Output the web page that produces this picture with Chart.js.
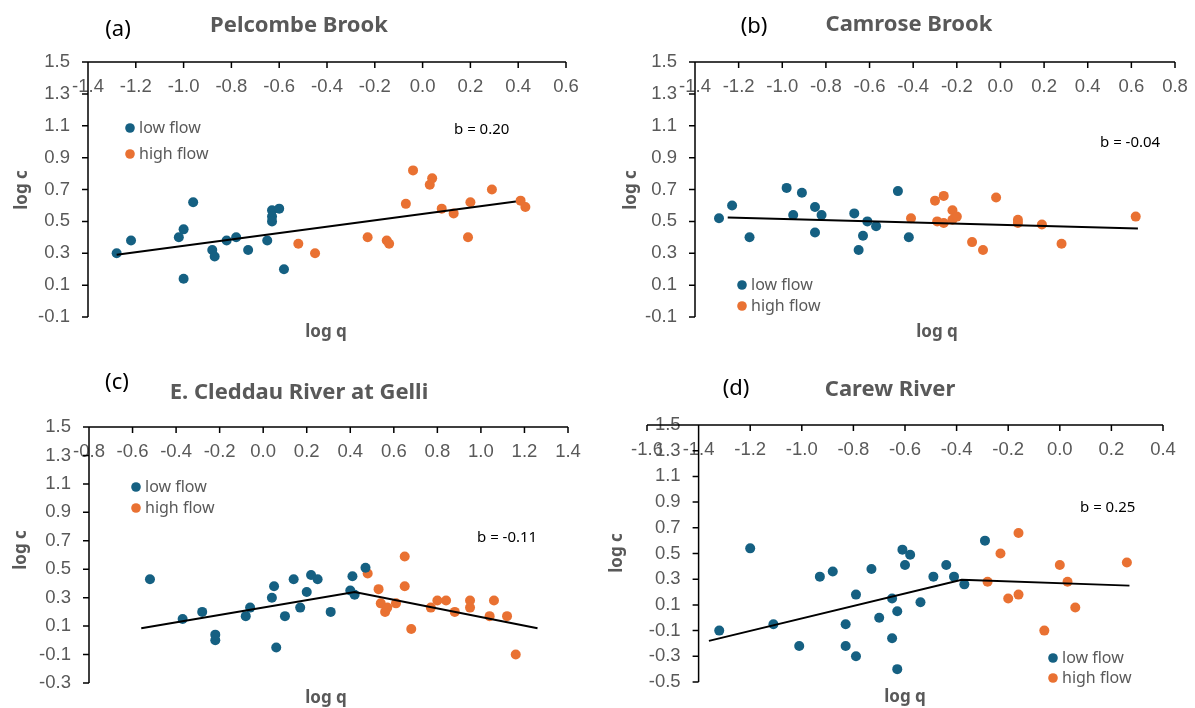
<!DOCTYPE html>
<html>
<head>
<meta charset="utf-8">
<title>log c vs log q</title>
<script src="https://cdn.jsdelivr.net/npm/chart.js@4.4.1/dist/chart.umd.min.js"></script>
<style>
  html, body { margin: 0; padding: 0; background: #fff; }
  body { width: 1195px; height: 708px; position: relative; overflow: hidden; }
  canvas { position: absolute; }
</style>
</head>
<body>
<canvas id="chart-a" width="597" height="354" style="left:0;top:0"></canvas>
<canvas id="chart-b" width="598" height="354" style="left:597px;top:0"></canvas>
<canvas id="chart-c" width="597" height="354" style="left:0;top:354px"></canvas>
<canvas id="chart-d" width="598" height="354" style="left:597px;top:354px"></canvas>
<script>
const BLUE = '#156082';
const ORANGE = '#E97132';
const GREY = '#595959';
const FAMILY = '"Liberation Sans", Arial, sans-serif';
const TEXT_FAMILY = '"Noto Sans", "Open Sans", sans-serif';

// (a) Pelcombe Brook  [log q, log c]
const lowFlowA = [[-1.28, 0.30], [-1.22, 0.38], [-1.02, 0.40], [-1.00, 0.45], [-1.00, 0.14],
  [-0.96, 0.62], [-0.88, 0.32], [-0.87, 0.28], [-0.82, 0.38], [-0.78, 0.40], [-0.73, 0.32],
  [-0.65, 0.38], [-0.63, 0.57], [-0.63, 0.53], [-0.63, 0.50], [-0.60, 0.58], [-0.58, 0.20]];
const highFlowA = [[-0.52, 0.36], [-0.45, 0.30], [-0.23, 0.40], [-0.15, 0.38], [-0.14, 0.36],
  [-0.07, 0.61], [-0.04, 0.82], [0.03, 0.73], [0.04, 0.77], [0.08, 0.58], [0.13, 0.55],
  [0.19, 0.40], [0.20, 0.62], [0.29, 0.70], [0.41, 0.63], [0.43, 0.59]];
const trendA = [[-1.28, 0.29], [0.39, 0.625]];
const xTicksA = [-1.4, -1.2, -1.0, -0.8, -0.6, -0.4, -0.2, 0.0, 0.2, 0.4, 0.6];
const yTicksA = [-0.1, 0.1, 0.3, 0.5, 0.7, 0.9, 1.1, 1.3, 1.5];

// (b) Camrose Brook
const lowFlowB = [[-1.29, 0.52], [-1.23, 0.60], [-1.15, 0.40], [-0.98, 0.71], [-0.95, 0.54],
  [-0.91, 0.68], [-0.85, 0.59], [-0.85, 0.43], [-0.82, 0.54], [-0.67, 0.55], [-0.65, 0.32],
  [-0.63, 0.41], [-0.61, 0.50], [-0.57, 0.47], [-0.47, 0.69], [-0.42, 0.40]];
const highFlowB = [[-0.41, 0.52], [-0.30, 0.63], [-0.29, 0.50], [-0.26, 0.66], [-0.26, 0.49],
  [-0.22, 0.57], [-0.22, 0.51], [-0.20, 0.53], [-0.13, 0.37], [-0.08, 0.32], [-0.02, 0.65],
  [0.08, 0.51], [0.08, 0.49], [0.19, 0.48], [0.28, 0.36], [0.62, 0.53]];
const trendB = [[-1.25, 0.525], [0.63, 0.455]];
const xTicksB = [-1.4, -1.2, -1.0, -0.8, -0.6, -0.4, -0.2, 0.0, 0.2, 0.4, 0.6, 0.8];
const yTicksB = [-0.1, 0.1, 0.3, 0.5, 0.7, 0.9, 1.1, 1.3, 1.5];

// (c) E. Cleddau River at Gelli
const lowFlowC = [[-0.52, 0.43], [-0.37, 0.15], [-0.28, 0.20], [-0.22, 0.00], [-0.22, 0.04],
  [-0.08, 0.17], [-0.06, 0.23], [0.04, 0.30], [0.05, 0.38], [0.06, -0.05], [0.10, 0.17],
  [0.14, 0.43], [0.17, 0.23], [0.20, 0.34], [0.22, 0.46], [0.25, 0.43], [0.31, 0.20],
  [0.40, 0.35], [0.41, 0.45], [0.42, 0.32], [0.47, 0.51]];
const highFlowC = [[0.48, 0.47], [0.53, 0.36], [0.54, 0.26], [0.56, 0.20], [0.57, 0.23],
  [0.61, 0.26], [0.65, 0.59], [0.65, 0.38], [0.68, 0.08], [0.77, 0.23], [0.80, 0.28],
  [0.84, 0.28], [0.88, 0.20], [0.95, 0.28], [0.95, 0.23], [1.04, 0.17], [1.06, 0.28],
  [1.12, 0.17], [1.16, -0.10]];
const trendC = [[-0.56, 0.085], [0.42, 0.34], [1.26, 0.085]];
const xTicksC = [-0.8, -0.6, -0.4, -0.2, 0.0, 0.2, 0.4, 0.6, 0.8, 1.0, 1.2, 1.4];
const yTicksC = [-0.3, -0.1, 0.1, 0.3, 0.5, 0.7, 0.9, 1.1, 1.3, 1.5];

// (d) Carew River
const lowFlowD = [[-1.32, -0.10], [-1.20, 0.54], [-1.11, -0.05], [-1.01, -0.22], [-0.93, 0.32],
  [-0.88, 0.36], [-0.83, -0.05], [-0.83, -0.22], [-0.79, 0.18], [-0.79, -0.30], [-0.73, 0.38],
  [-0.70, 0.00], [-0.65, 0.15], [-0.65, -0.16], [-0.63, 0.05], [-0.63, -0.40], [-0.61, 0.53],
  [-0.60, 0.41], [-0.58, 0.49], [-0.54, 0.12], [-0.49, 0.32], [-0.44, 0.41], [-0.41, 0.32],
  [-0.37, 0.26], [-0.29, 0.60]];
const highFlowD = [[-0.28, 0.28], [-0.23, 0.50], [-0.20, 0.15], [-0.16, 0.66], [-0.16, 0.18],
  [-0.06, -0.10], [0.00, 0.41], [0.03, 0.28], [0.06, 0.08], [0.26, 0.43]];
const trendD = [[-1.36, -0.18], [-0.38, 0.295], [0.27, 0.25]];
const xTicksD = [-1.6, -1.4, -1.2, -1.0, -0.8, -0.6, -0.4, -0.2, 0.0, 0.2, 0.4];
const yTicksD = [-0.5, -0.3, -0.1, 0.1, 0.3, 0.5, 0.7, 0.9, 1.1, 1.3, 1.5];

const panels = [
  { id: 'chart-a', tag: '(a)', name: 'Pelcombe Brook', slope: 'b = 0.20',
    low: lowFlowA, high: highFlowA, trend: trendA, xTicks: xTicksA, yTicks: yTicksA, yCross: -1.4,
    pad: { left: 88, right: 31, top: 62, bottom: 37 },
    at: { tag: [118, 30], name: [299, 26], yTitle: [22, 190], xTitle: [326, 332],
          legend: [130, 128, 154], slope: [454, 130] } },
  { id: 'chart-b', tag: '(b)', name: 'Camrose Brook', slope: 'b = -0.04',
    low: lowFlowB, high: highFlowB, trend: trendB, xTicks: xTicksB, yTicks: yTicksB, yCross: -1.4,
    pad: { left: 98, right: 20, top: 62, bottom: 37 },
    at: { tag: [157, 27], name: [312, 25], yTitle: [34, 190], xTitle: [340, 332],
          legend: [145, 285, 306], slope: [503, 143] } },
  { id: 'chart-c', tag: '(c)', name: 'E. Cleddau River at Gelli', slope: 'b = -0.11',
    low: lowFlowC, high: highFlowC, trend: trendC, xTicks: xTicksC, yTicks: yTicksC, yCross: -0.8,
    pad: { left: 89, right: 29, top: 73, bottom: 25 },
    at: { tag: [117, 29], name: [299, 39], yTitle: [21, 196], xTitle: [326, 344],
          legend: [136, 133, 154], slope: [477, 184] } },
  { id: 'chart-d', tag: '(d)', name: 'Carew River', slope: 'b = 0.25',
    low: lowFlowD, high: highFlowD, trend: trendD, xTicks: xTicksD, yTicks: yTicksD, yCross: -1.4,
    pad: { left: 50, right: 32, top: 71, bottom: 26 },
    at: { tag: [139, 35], name: [293, 36], yTitle: [20, 199], xTitle: [308, 343],
          legend: [456, 304, 324], slope: [483, 154] } }
];

const toPoints = arr => arr.map(([x, y]) => ({ x, y }));

// axes cross at the top of the value range (x) and at yCross (y), Excel style
function makeDecor(p) {
  return {
    id: 'decor',
    beforeDatasetsDraw(chart) {
      const { ctx, scales: { x, y } } = chart;
      const axisY = y.getPixelForValue(p.yTicks[p.yTicks.length - 1]);
      const axisX = x.getPixelForValue(p.yCross);
      ctx.save();
      ctx.fillStyle = GREY;
      ctx.font = '18.5px ' + FAMILY;
      ctx.textBaseline = 'middle';
      ctx.textAlign = 'right';
      p.yTicks.forEach(v => ctx.fillText(v.toFixed(1), axisX - 18, y.getPixelForValue(v)));
      ctx.textAlign = 'center';
      p.xTicks.forEach(v => ctx.fillText(v.toFixed(1), x.getPixelForValue(v), axisY + 25));

      ctx.strokeStyle = '#000';
      ctx.lineWidth = 1.5;
      ctx.beginPath();
      ctx.moveTo(x.left, axisY);
      ctx.lineTo(x.right, axisY);
      p.xTicks.forEach(v => {
        const px = x.getPixelForValue(v);
        ctx.moveTo(px, axisY);
        ctx.lineTo(px, axisY + 6);
      });
      ctx.moveTo(axisX, y.top);
      ctx.lineTo(axisX, y.bottom);
      p.yTicks.forEach(v => {
        const py = y.getPixelForValue(v);
        ctx.moveTo(axisX - 6, py);
        ctx.lineTo(axisX, py);
      });
      ctx.stroke();
      ctx.restore();
    },
    afterDraw(chart) {
      const ctx = chart.ctx;
      const a = p.at;
      ctx.save();
      ctx.textBaseline = 'middle';

      ctx.fillStyle = '#000';
      ctx.textAlign = 'center';
      ctx.font = '22px ' + TEXT_FAMILY;
      ctx.fillText(p.tag, a.tag[0], a.tag[1]);

      ctx.fillStyle = GREY;
      ctx.font = 'bold 22px ' + TEXT_FAMILY;
      ctx.fillText(p.name, a.name[0], a.name[1]);

      ctx.font = 'bold 17px ' + TEXT_FAMILY;
      ctx.fillText('log q', a.xTitle[0], a.xTitle[1]);
      ctx.save();
      ctx.translate(a.yTitle[0], a.yTitle[1]);
      ctx.rotate(-Math.PI / 2);
      ctx.fillText('log c', 0, 0);
      ctx.restore();

      // legend from the scatter datasets
      ctx.textAlign = 'left';
      ctx.font = '16px ' + TEXT_FAMILY;
      const rows = [a.legend[1], a.legend[2]];
      chart.data.datasets.slice(0, 2).forEach((ds, i) => {
        ctx.fillStyle = ds.backgroundColor;
        ctx.beginPath();
        ctx.arc(a.legend[0], rows[i], 4.8, 0, Math.PI * 2);
        ctx.fill();
        ctx.fillStyle = GREY;
        ctx.fillText(ds.label, a.legend[0] + 9, rows[i]);
      });

      ctx.fillStyle = '#000';
      ctx.font = '15px ' + TEXT_FAMILY;
      ctx.fillText(p.slope, a.slope[0], a.slope[1]);
      ctx.restore();
    }
  };
}

panels.forEach(p => {
  new Chart(document.getElementById(p.id), {
    type: 'scatter',
    data: {
      datasets: [
        { label: 'low flow', data: toPoints(p.low), backgroundColor: BLUE, borderColor: BLUE,
          borderWidth: 0, pointRadius: 5 },
        { label: 'high flow', data: toPoints(p.high), backgroundColor: ORANGE, borderColor: ORANGE,
          borderWidth: 0, pointRadius: 5 },
        { type: 'line', label: 'trend', data: toPoints(p.trend), borderColor: '#000',
          borderWidth: 2, pointRadius: 0, fill: false, tension: 0, order: -1 }
      ]
    },
    options: {
      responsive: false,
      animation: false,
      clip: false,
      layout: { padding: p.pad },
      plugins: { legend: { display: false }, tooltip: { enabled: false } },
      scales: {
        x: { type: 'linear', display: false, min: p.xTicks[0], max: p.xTicks[p.xTicks.length - 1] },
        y: { type: 'linear', display: false, min: p.yTicks[0], max: p.yTicks[p.yTicks.length - 1] }
      }
    },
    plugins: [makeDecor(p)]
  });
});
</script>
</body>
</html>
